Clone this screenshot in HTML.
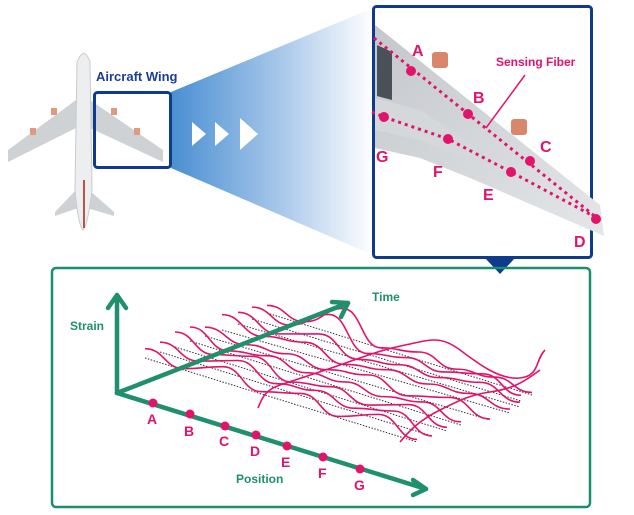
<!DOCTYPE html>
<html><head><style>
html,body{margin:0;padding:0;background:#fff;}
svg{display:block;font-family:"Liberation Sans",sans-serif;font-weight:bold;}
</style></head><body>
<svg id="s" width="634" height="515" viewBox="0 0 634 515" xmlns="http://www.w3.org/2000/svg">
<defs>
<linearGradient id="g" x1="0" x2="1" y1="0" y2="0">
<stop offset="0" stop-color="#4a8fd2"/><stop offset="0.55" stop-color="#a9c8ea"/><stop offset="1" stop-color="#ffffff"/>
</linearGradient>
<linearGradient id="wg" x1="0" x2="1" y1="0" y2="1">
<stop offset="0" stop-color="#c4c8cc"/><stop offset="1" stop-color="#e4e6e8"/>
</linearGradient>
</defs>
<polygon points="171,92 373,8 373,255 171,168" fill="url(#g)"/>
<polygon points="192,122 206,134 192,146" fill="#fff"/>
<polygon points="215,122 229,134 215,146" fill="#fff"/>
<polygon points="240,118 258,134 240,150" fill="#fff"/>
<!-- airplane -->
<polygon points="76,100 8,150 8,162 76,128" fill="#cfd2d5"/>
<polygon points="90,100 163,150 163,162 90,128" fill="#cfd2d5"/>
<polygon points="76,190 55,212 55,216 78,208" fill="#cfd2d5"/>
<polygon points="89,190 114,212 114,216 87,208" fill="#cfd2d5"/>
<path d="M77,62 Q84,45 90,62 L92,190 Q88,225 83,230 Q78,225 75,190 Z" fill="#eceeef" stroke="#c8cbce" stroke-width="1"/>
<line x1="84" y1="180" x2="84" y2="228" stroke="#c0504a" stroke-width="2"/>
<rect x="51" y="108" width="6" height="7" fill="#e09a80"/><rect x="30" y="128" width="6" height="7" fill="#e09a80"/>
<rect x="111" y="108" width="6" height="7" fill="#e09a80"/><rect x="134" y="128" width="6" height="7" fill="#e09a80"/>
<rect x="94.5" y="92.5" width="76" height="75" rx="3" fill="none" stroke="#0f3b8c" stroke-width="3"/>
<text x="96" y="81" font-size="13" fill="#1a3f94">Aircraft Wing</text>
<!-- zoom box -->
<rect x="373.5" y="6.5" width="218" height="251" rx="3" fill="#fff" stroke="#0f3b8c" stroke-width="3"/>
<polygon points="485,258 515,258 500,274" fill="#0f3b8c"/>
<polygon points="375,25 600,205 604,236 470,178 420,158 375,148" fill="url(#wg)"/>
<polygon points="375,98 420,110 480,150 470,160 420,140 375,130" fill="#d5d8db"/>
<polygon points="377,45 392,52 392,100 377,96" fill="#4a5058"/>
<rect x="432" y="52" width="16" height="16" rx="3" fill="#d9876a"/>
<rect x="511" y="119" width="16" height="16" rx="3" fill="#d9876a"/>
<g stroke="#e2136a" stroke-width="3" stroke-dasharray="3,4" fill="none">
<line x1="374" y1="38" x2="597" y2="218"/>
<path d="M372,112 L384,117 L448,139 L511,172 L597,218"/>
</g>
<g fill="#e2136a">
<circle cx="411" cy="71" r="5"/><circle cx="468" cy="114" r="5"/><circle cx="530" cy="161" r="5"/><circle cx="596" cy="219" r="5"/>
<circle cx="384" cy="117" r="5"/><circle cx="448" cy="139" r="5"/><circle cx="511" cy="172" r="5"/>
</g>
<line x1="525" y1="75" x2="486" y2="128" stroke="#e2136a" stroke-width="1.5"/>
<g fill="#e2136a" font-size="16">
<text x="412" y="56">A</text><text x="473" y="103">B</text><text x="540" y="152">C</text><text x="574" y="247">D</text>
<text x="376" y="162">G</text><text x="433" y="177">F</text><text x="483" y="200">E</text>
</g>
<text x="496" y="66" font-size="12" fill="#e2136a">Sensing Fiber</text>
<!-- bottom box -->
<rect x="52" y="268" width="538" height="239" rx="4" fill="none" stroke="#1a8f6e" stroke-width="2.5"/>
<g id="dots" stroke="#333" stroke-width="1" stroke-dasharray="1.5,1.5"></g>
<g id="waves" stroke="#e2136a" stroke-width="1.6" fill="none"></g>
<g stroke="#1f8f6c" stroke-width="4.5" fill="none" stroke-linecap="round" stroke-linejoin="round">
<line x1="117" y1="393" x2="117" y2="298"/>
<polyline points="108,308 117,295 126,308"/>
<line x1="117" y1="393" x2="348" y2="303"/>
<polyline points="332,302 348,303 341,317"/>
<line x1="117" y1="393" x2="426" y2="489"/>
<polyline points="413,480 426,489 413,495"/>
</g>
<g fill="#e2136a">
<circle cx="153" cy="403" r="4.5"/><circle cx="190" cy="414" r="4.5"/><circle cx="225" cy="426" r="4.5"/><circle cx="256" cy="435" r="4.5"/><circle cx="287" cy="446" r="4.5"/><circle cx="323" cy="457" r="4.5"/><circle cx="360" cy="469" r="4.5"/>
</g>
<g fill="#e2136a" font-size="14">
<text x="147" y="424">A</text><text x="184" y="436">B</text><text x="219" y="446">C</text><text x="250" y="456">D</text><text x="281" y="467">E</text><text x="318" y="478">F</text><text x="354" y="490">G</text>
</g>
<g fill="#1f8f6c" font-size="12">
<text x="70" y="330">Strain</text><text x="372" y="301">Time</text><text x="236" y="483">Position</text>
</g>
</svg>
<script>
(function(){
var NS="http://www.w3.org/2000/svg";
var lines=[[145,358,417,442],[160,352,432,436],[175,347,447,431],[190,341,461,425],[205,336,490,420],[222,330,510,413],[238,324,520,407],[252,319,521,401],[267,313,532,395]];
var dg=document.getElementById("dots"),wg=document.getElementById("waves");
var seed=3;function r(){seed=(seed*9301+49297)%233280;return seed/233280;}
lines.forEach(function(l,i){
 var d=document.createElementNS(NS,"line");
 d.setAttribute("x1",l[0]);d.setAttribute("y1",l[1]);d.setAttribute("x2",l[2]);d.setAttribute("y2",l[3]);
 dg.appendChild(d);
 var n=7,p="",pts=[];
 for(var k=0;k<=n;k++){var t=k/n;var x=l[0]+(l[2]-l[0])*t+ (i>=6?0:0);var y=l[1]+(l[3]-l[1])*t;
  var off=(k%2==0)?-(6+r()*10):-(0+r()*6);
  if(i>=7&&k==2)off=-28;
  pts.push([x,y+off]);}
 p="M"+pts[0][0]+","+pts[0][1];
 for(var k=1;k<pts.length;k++){var a=pts[k-1],b=pts[k];var mx=(a[0]+b[0])/2;
  p+=" C"+mx+","+a[1]+" "+mx+","+b[1]+" "+b[0]+","+b[1];}
 var e=document.createElementNS(NS,"path");e.setAttribute("d",p);wg.appendChild(e);
});
var c=document.createElementNS(NS,"path");
c.setAttribute("d","M258,408 C262,398 265,390 280,385 S320,372 340,365 S380,350 405,345 S440,335 460,350 S500,380 520,378 S535,360 545,350");
wg.appendChild(c);
var c2=document.createElementNS(NS,"path");
c2.setAttribute("d","M400,442 C410,430 420,420 440,410 S470,395 490,392 S520,385 540,370");
wg.appendChild(c2);
})();
</script>
</body></html>
